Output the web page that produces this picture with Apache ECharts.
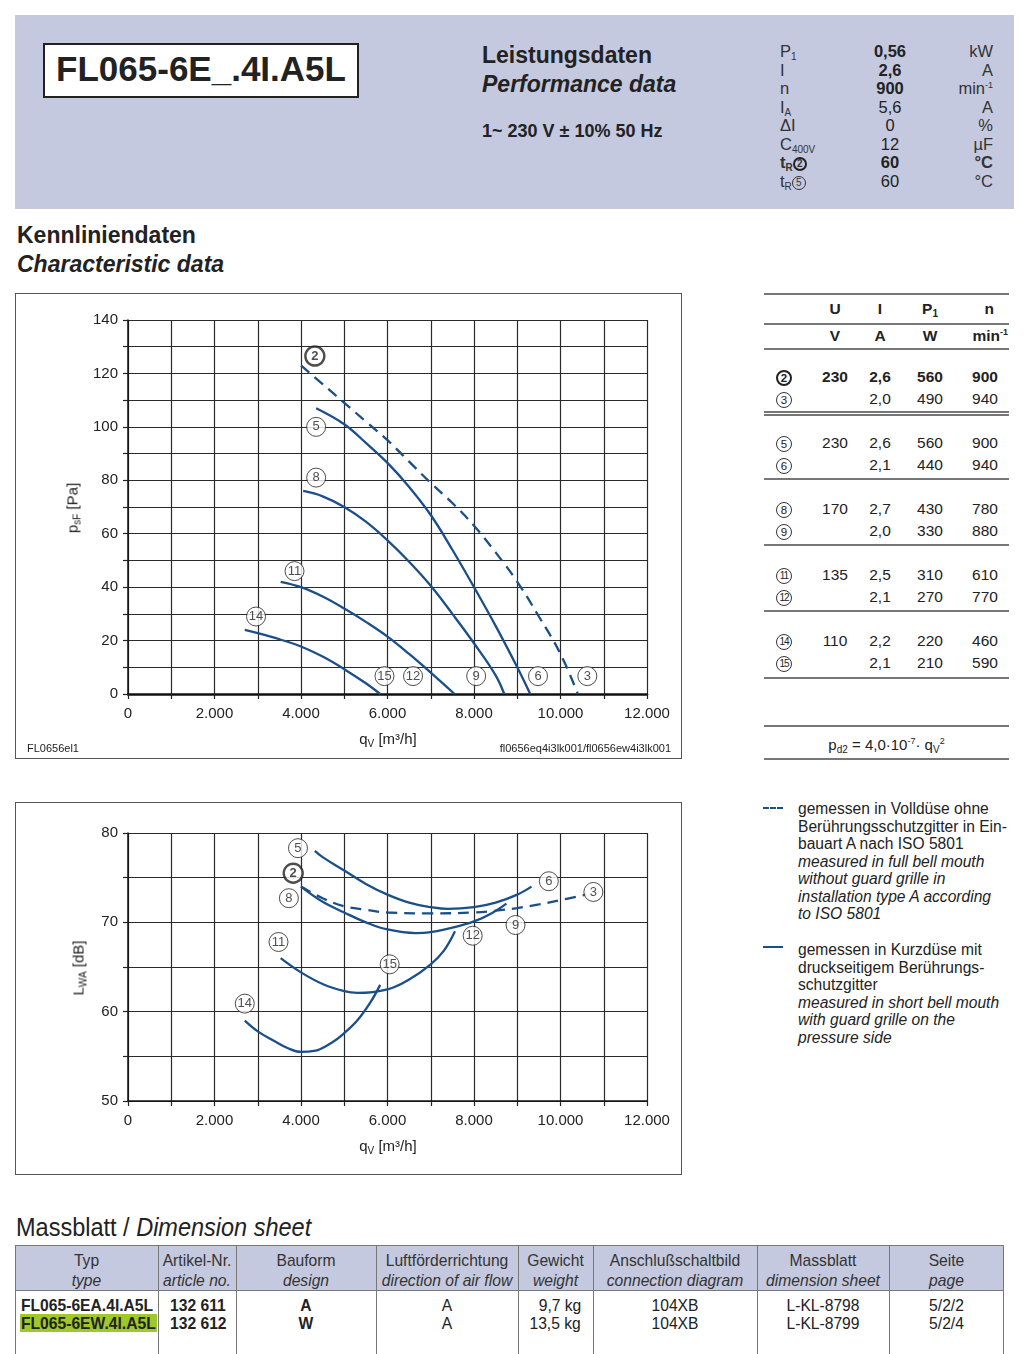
<!DOCTYPE html>
<html><head><meta charset="utf-8">
<script src="https://cdn.jsdelivr.net/npm/echarts@6/dist/echarts.min.js"></script>
<style>
body{margin:0;width:1024px;height:1354px;position:relative;background:#fff;font-family:"Liberation Sans",Arial,sans-serif;color:#222;overflow:hidden}
.a{position:absolute;white-space:nowrap;line-height:1}
#chart{position:absolute;left:0;top:0;width:1024px;height:1354px;z-index:2}
.ov{z-index:3}
.c{display:inline-block;box-sizing:border-box;width:16px;height:16px;border:1px solid #333;border-radius:50%;text-align:center;font-size:11.5px;line-height:14px;font-weight:normal;vertical-align:middle}
.cb{border:2px solid #222;font-weight:bold;line-height:12px}
sub{font-size:10px;vertical-align:-3px;line-height:0}
sup{font-size:9px;vertical-align:6px;line-height:0}
.hl{position:absolute;left:764px;width:245px;background:#777;height:1.5px}
.nc{transform:scaleX(0.92);transform-origin:50% 50%}
.nl{transform:scaleX(0.92);transform-origin:0 50%}
.nr{transform:scaleX(0.92);transform-origin:100% 50%}
</style></head>
<body>
<!-- header -->
<div class="a" style="left:15px;top:15px;width:999px;height:194px;background:#c4c9df"></div>
<div class="a" style="left:43px;top:43px;width:312px;height:51px;background:#fff;border:2px solid #222"></div>
<div class="a" style="left:43px;top:51px;width:316px;text-align:center;font-weight:bold;font-size:35px">FL065-6E_.4I.A5L</div>
<div class="a" style="left:482px;top:44px;font-weight:bold;font-size:23px">Leistungsdaten</div>
<div class="a" style="left:482px;top:73px;font-weight:bold;font-style:italic;font-size:23px">Performance data</div>
<div class="a" style="left:482px;top:122px;font-weight:bold;font-size:18px">1~ 230 V ± 10% 50 Hz</div>
<div id="params"></div>

<div class="a" style="left:17px;top:224px;font-weight:bold;font-size:23px">Kennliniendaten</div>
<div class="a" style="left:17px;top:253px;font-weight:bold;font-style:italic;font-size:23px">Characteristic data</div>

<!-- chart frames -->
<div class="a" style="left:15px;top:293px;width:665px;height:464px;border:1px solid #555"></div>
<div class="a" style="left:15px;top:802px;width:665px;height:371px;border:1px solid #555"></div>

<div class="a ov" style="left:72px;top:508px;transform:translate(-50%,-50%) rotate(-90deg);font-size:15px">p<sub>sF</sub> [Pa]</div>
<div class="a ov" style="left:388px;top:738px;transform:translate(-50%,-50%);font-size:15px">q<sub>V</sub> [m³/h]</div>
<div class="a ov" style="left:27px;top:743px;font-size:11px">FL0656el1</div>
<div class="a ov" style="right:353px;top:743px;font-size:11px">fl0656eq4i3lk001/fl0656ew4i3lk001</div>
<div class="a ov" style="left:78px;top:968px;transform:translate(-50%,-50%) rotate(-90deg);font-size:15px">L<sub>WA</sub> [dB]</div>
<div class="a ov" style="left:388px;top:1145px;transform:translate(-50%,-50%);font-size:15px">q<sub>V</sub> [m³/h]</div>

<!-- right table -->
<div id="rtable"></div>

<!-- legend -->
<div class="a" style="left:763px;top:807px;width:20px;height:0;border-top:2px dashed #1a4f8a"></div>
<div class="a" style="left:763px;top:946px;width:20px;height:2px;background:#1a4f8a"></div>
<div class="a" style="left:798px;top:800px;font-size:15.6px;line-height:17.5px;white-space:normal;width:220px">gemessen in Volldüse ohne<br>Berührungsschutzgitter in Ein-<br>bauart A nach ISO 5801<br><i>measured in full bell mouth<br>without guard grille in<br>installation type A according<br>to ISO 5801</i></div>
<div class="a" style="left:798px;top:941px;font-size:15.6px;line-height:17.5px;white-space:normal;width:220px">gemessen in Kurzdüse mit<br>druckseitigem Berührungs-<br>schutzgitter<br><i>measured in short bell mouth<br>with guard grille on the<br>pressure side</i></div>

<!-- dimension sheet -->
<div class="a" style="left:16px;top:1215px;font-size:25px;transform:scaleX(0.94);transform-origin:0 50%">Massblatt / <i>Dimension sheet</i></div>
<div id="btable"></div>

<div id="chart"></div>
<script>
// ---------- header parameters ----------
const paramLabels = ['P<sub>1</sub>','I','n','I<sub>A</sub>','ΔI','C<sub>400V</sub>','<b>t<sub>R</sub></b><span class="c cb" style="width:14px;height:14px;font-size:10px;line-height:10px">2</span>','t<sub>R</sub><span class="c" style="width:14px;height:14px;font-size:10px;line-height:12px">5</span>'];
const paramValues = ['0,56','2,6','900','5,6','0','12','60','60'];
const paramUnits = ['kW','A','min<sup>-1</sup>','A','%','µF','°C','°C'];
const paramBold = [true,true,true,false,false,false,true,false];

// ---------- right table ----------
const tblIds = ['2','3','5','6','8','9','11','12','14','15'];
const tblU = ['230','','230','','170','','135','','110',''];
const tblI = ['2,6','2,0','2,6','2,1','2,7','2,0','2,5','2,1','2,2','2,1'];
const tblP = ['560','490','560','440','430','330','310','270','220','210'];
const tblN = ['900','940','900','940','780','880','610','770','460','590'];

// ---------- dimension table ----------
const dimHead1 = ['Typ','Artikel-Nr.','Bauform','Luftförderrichtung','Gewicht','Anschlußschaltbild','Massblatt','Seite'];
const dimHead2 = ['type','article no.','design','direction of air flow','weight','connection diagram','dimension sheet','page'];
const dimRow1 = ['FL065-6EA.4I.A5L','132 611','A','A','9,7 kg','104XB','L-KL-8798','5/2/2'];
const dimRow2 = ['FL065-6EW.4I.A5L','132 612','W','A','13,5 kg','104XB','L-KL-8799','5/2/4'];

// ---------- characteristic curves p_sF(q_V) ----------
const psf_2_3 = [[4000,123],[4500,116],[5000,109],[5500,102],[6000,95],[6500,87],[7000,79],[7500,71.5],[8000,63],[8500,53],[9000,42],[9500,29],[10000,15],[10400,0]];
const psf_5_6 = [[4350,107],[5000,101],[5500,94],[6000,86.5],[6500,77.5],[7000,67],[7500,54],[8000,40],[8500,25.5],[9000,10],[9300,0]];
const psf_8_9 = [[4050,76],[4500,74],[5000,70],[5500,64.5],[6000,57.5],[6500,49.5],[7000,40.5],[7500,30],[8000,19],[8500,7],[8700,0]];
const psf_11_12 = [[3530,42],[4000,40],[4500,36.5],[5000,32],[5500,27],[6000,21.5],[6500,15],[7000,8],[7550,0]];
const psf_14_15 = [[2700,24],[3000,22.8],[3500,20.5],[4000,17.8],[4500,14],[5000,9.3],[5500,4],[5830,0]];
const psfMarks = [[4320,126.5,'2'],[4350,100,'5'],[4350,81,'8'],[3850,46,'11'],[2960,29,'14'],[5930,6.7,'15'],[6590,6.7,'12'],[8050,6.7,'9'],[9480,6.7,'6'],[10620,6.7,'3']];

// ---------- sound power L_WA(q_V) ----------
const lwa_2_3 = [[4000,74],[4500,72.7],[5000,71.8],[5500,71.4],[6000,71.1],[7000,71],[8000,71.1],[8500,71.3],[9000,71.6],[9500,72],[10000,72.5],[10600,73.1]];
const lwa_5_6 = [[4320,78],[4500,77.3],[5000,75.8],[5500,74.3],[6000,73.1],[6500,72.2],[7000,71.7],[7400,71.5],[8000,71.7],[8500,72.2],[9000,73.1],[9330,74]];
const lwa_8_9 = [[4000,74],[4500,72.3],[5000,71.1],[5500,70],[6000,69.2],[6650,68.8],[7000,68.9],[7500,69.4],[8000,70.1],[8400,71],[8750,72.1]];
const lwa_11_12 = [[3530,66],[4000,64.4],[4500,63.1],[5000,62.3],[5300,62.1],[6000,62.5],[6500,63.6],[7000,65.3],[7300,66.8],[7560,69]];
const lwa_14_15 = [[2700,59],[3000,57.8],[3350,56.8],[3700,55.9],[4000,55.5],[4300,55.6],[4700,56.5],[5000,57.6],[5300,59],[5600,61],[5830,63]];
const lwaMarks = [[3930,78.3,'5'],[3820,75.5,'2'],[3720,72.7,'8'],[3480,67.8,'11'],[2700,60.9,'14'],[6050,65.3,'15'],[7970,68.5,'12'],[8960,69.7,'9'],[9730,74.6,'6'],[10760,73.4,'3']];

// ===== build HTML parts =====
let h='';
const rowY=[51,70,88,107,125,144,162,181];
for(let i=0;i<paramLabels.length;i++){
  const fw=paramBold[i]?'bold':'normal';
  h+=`<div class="a" style="left:780px;top:${rowY[i]-8}px;font-size:16.5px;color:#333">${paramLabels[i]}</div>`;
  h+=`<div class="a" style="left:850px;width:80px;text-align:center;top:${rowY[i]-8}px;font-size:16.5px;font-weight:${fw};color:#222">${paramValues[i]}</div>`;
  h+=`<div class="a" style="right:31px;top:${rowY[i]-8}px;font-size:16.5px;color:#333;font-weight:${i==6?'bold':'normal'}">${paramUnits[i]}</div>`;
}
document.getElementById('params').innerHTML=h;

h='';
[293,323,348,411,414,478,544,610,677,725,758].forEach(y=>{h+=`<div class="hl" style="top:${y}px"></div>`;});
const colX=[835,880,930,985];
h+=`<div class="a" style="left:${colX[0]-20}px;width:40px;text-align:center;top:301px;font-weight:bold;font-size:15.5px">U</div>`;
h+=`<div class="a" style="left:${colX[1]-20}px;width:40px;text-align:center;top:301px;font-weight:bold;font-size:15.5px">I</div>`;
h+=`<div class="a" style="left:${colX[2]-20}px;width:40px;text-align:center;top:301px;font-weight:bold;font-size:15.5px">P<sub>1</sub></div>`;
h+=`<div class="a" style="right:30px;top:301px;font-weight:bold;font-size:15.5px">n</div>`;
h+=`<div class="a" style="left:${colX[0]-20}px;width:40px;text-align:center;top:328px;font-weight:bold;font-size:15.5px">V</div>`;
h+=`<div class="a" style="left:${colX[1]-20}px;width:40px;text-align:center;top:328px;font-weight:bold;font-size:15.5px">A</div>`;
h+=`<div class="a" style="left:${colX[2]-20}px;width:40px;text-align:center;top:328px;font-weight:bold;font-size:15.5px">W</div>`;
h+=`<div class="a" style="right:16px;top:328px;font-weight:bold;font-size:15.5px">min<sup>-1</sup></div>`;
const trY=[377,399,443,465,509,531,575,597,641,663];
for(let i=0;i<tblIds.length;i++){
  const b=i==0;
  const fw=b?'bold':'normal';
  const y=trY[i]-8;
  h+=`<div class="a" style="left:776px;top:${trY[i]-8}px"><span class="c${b?' cb':''}" style="${tblIds[i].length>1?'font-size:10px;letter-spacing:-1px':''}">${tblIds[i]}</span></div>`;
  [tblU[i],tblI[i],tblP[i]].forEach((t,k)=>{h+=`<div class="a" style="left:${colX[k]-25}px;width:50px;text-align:center;top:${y}px;font-size:15.5px;font-weight:${fw}">${t}</div>`;});
  h+=`<div class="a" style="left:${colX[3]-25}px;width:50px;text-align:center;top:${y}px;font-size:15.5px;font-weight:${fw}">${tblN[i]}</div>`;
}
h+=`<div class="a" style="left:764px;width:245px;text-align:center;top:737px;font-size:15px">p<sub>d2</sub> = 4,0·10<sup>-7</sup>· q<sub>V</sub><sup>2</sup></div>`;
document.getElementById('rtable').innerHTML=h;

// dimension table
h='';
const cx=[15,158,236,376,518,593,757,889,1004];
h+=`<div class="a" style="left:15px;top:1245px;width:989px;height:46px;background:#c4c9df"></div>`;
h+=`<div class="a" style="left:15px;top:1245px;width:989px;height:120px;border:1px solid #777;box-sizing:border-box"></div>`;
h+=`<div class="a" style="left:15px;top:1290px;width:989px;height:1px;background:#777"></div>`;
for(let k=1;k<cx.length-1;k++) h+=`<div class="a" style="left:${cx[k]}px;top:1245px;width:1px;height:120px;background:#777"></div>`;
for(let k=0;k<8;k++){
  const w=cx[k+1]-cx[k];
  h+=`<div class="a nc" style="left:${cx[k]}px;width:${w}px;text-align:center;top:1252px;font-size:17px;color:#333">${dimHead1[k]}</div>`;
  h+=`<div class="a nc" style="left:${cx[k]}px;width:${w}px;text-align:center;top:1272px;font-size:17px;font-style:italic;color:#333">${dimHead2[k]}</div>`;
}
[dimRow1,dimRow2].forEach((r,j)=>{
  const y=1297+j*18;
  if(j==1) h+=`<div class="a" style="left:20px;top:${y-1}px;width:137px;height:18px;background:#9fc92a"></div>`;
  h+=`<div class="a nl" style="left:21px;top:${y}px;font-size:17px;font-weight:bold">${r[0]}</div>`;
  h+=`<div class="a nl" style="left:170px;top:${y}px;font-size:17px;font-weight:bold">${r[1]}</div>`;
  h+=`<div class="a nc" style="left:${cx[2]}px;width:${cx[3]-cx[2]}px;text-align:center;top:${y}px;font-size:17px;font-weight:bold">${r[2]}</div>`;
  h+=`<div class="a nc" style="left:${cx[3]}px;width:${cx[4]-cx[3]}px;text-align:center;top:${y}px;font-size:17px">${r[3]}</div>`;
  h+=`<div class="a nr" style="right:${1024-581}px;top:${y}px;font-size:17px">${r[4]}</div>`;
  h+=`<div class="a nc" style="left:${cx[5]}px;width:${cx[6]-cx[5]}px;text-align:center;top:${y}px;font-size:17px">${r[5]}</div>`;
  h+=`<div class="a nc" style="left:${cx[6]}px;width:${cx[7]-cx[6]}px;text-align:center;top:${y}px;font-size:17px">${r[6]}</div>`;
  h+=`<div class="a nc" style="left:${cx[7]}px;width:${cx[8]-cx[7]}px;text-align:center;top:${y}px;font-size:17px">${r[7]}</div>`;
});
document.getElementById('btable').innerHTML=h;

// ===== ECharts =====
const BLUE='#1a4f8a', GRID='#2a2a2a';
const chart=echarts.init(document.getElementById('chart'),null,{renderer:'canvas'});
const fmtQ=v=>v===0?'0':(v%2000===0?(v/1000)+'.000':'');
function xAx(gi,axisW){return {type:'value',gridIndex:gi,min:0,max:12000,interval:1000,
  axisLine:{show:true,onZero:false,lineStyle:{color:'#111',width:axisW}},
  axisTick:{show:true,length:5,lineStyle:{color:'#222',width:1.2}},
  axisLabel:{formatter:fmtQ,margin:12,fontSize:15,color:'#222',fontFamily:'Liberation Sans'},
  splitLine:{show:true,lineStyle:{color:GRID,width:1.2}}};}
function yAx(gi,min,max,iv,lab){return {type:'value',gridIndex:gi,min:min,max:max,interval:iv,
  axisLine:{show:true,onZero:false,lineStyle:{color:'#111',width:1.5}},
  axisTick:{show:true,length:5,lineStyle:{color:'#222',width:1.2}},
  axisLabel:{formatter:v=>v%lab===0?String(v):'',margin:10,fontSize:15,color:'#222',fontFamily:'Liberation Sans'},
  splitLine:{show:true,lineStyle:{color:GRID,width:1.2}}};}
function curve(d,gi,dashed){return {type:'line',xAxisIndex:gi,yAxisIndex:gi,data:d,smooth:0.4,showSymbol:false,silent:true,z:3,
  lineStyle:{color:BLUE,width:2.3,type:dashed?[11,7]:'solid'}};}
function marks(d,gi){return {type:'scatter',xAxisIndex:gi,yAxisIndex:gi,z:5,silent:true,
  data:d.map(p=>({value:p,symbolSize:19,
    itemStyle:{color:'#fff',borderColor:'#222',borderWidth:p[2]==='2'?2.4:1},
    label:{fontWeight:p[2]==='2'?'bold':'normal'}})),
  label:{show:true,position:'inside',formatter:q=>q.value[2],fontSize:13,color:'#222',fontFamily:'Liberation Sans'}};}
chart.setOption({
  animation:false,
  grid:[{left:128,top:320,width:519,height:374},{left:128,top:833,width:519,height:268}],
  xAxis:[xAx(0,2.5),xAx(1,1.5)],
  yAxis:[yAx(0,0,140,10,20),yAx(1,50,80,5,10)],
  series:[
    curve(psf_2_3,0,true),curve(psf_5_6,0),curve(psf_8_9,0),curve(psf_11_12,0),curve(psf_14_15,0),marks(psfMarks,0),
    curve(lwa_2_3,1,true),curve(lwa_5_6,1),curve(lwa_8_9,1),curve(lwa_11_12,1),curve(lwa_14_15,1),marks(lwaMarks,1)
  ]
});
</script>
</body></html>
